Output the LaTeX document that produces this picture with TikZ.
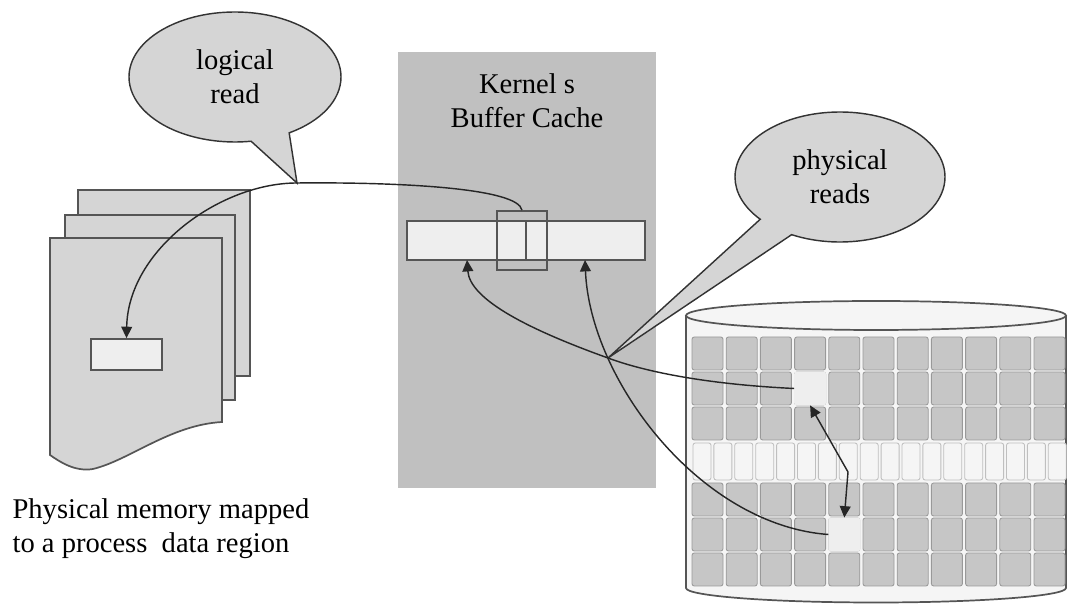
\documentclass[tikz,border=0pt]{standalone}
\usepackage{fontspec}
\setmainfont{Liberation Serif}
\usetikzlibrary{arrows.meta,shapes.callouts,fit}

\newcommand{\px}{0.35pt}
\definecolor{cachegray}{HTML}{C0C0C0}
\definecolor{pagegray}{HTML}{D5D5D5}
\definecolor{slotgray}{HTML}{EEEEEE}
\definecolor{diskgray}{HTML}{F5F5F5}
\definecolor{blockgray}{HTML}{C6C6C6}
\definecolor{edgegray}{HTML}{555555}

\tikzset{
  bubble/.style={ellipse callout, callout pointer arc=22, fill=pagegray,
    draw=black!80, line width=0.5pt, align=center, inner sep=0pt},
  page/.style={fill=pagegray, draw=edgegray, line width=0.6pt},
  slot/.style={fill=slotgray, draw=edgegray, line width=0.6pt, inner sep=0pt},
  block/.style={fill=blockgray, draw=black!40, line width=0.3pt,
    rounded corners=0.8pt, inner sep=0pt,
    minimum width=31*\px, minimum height=33*\px},
  hiblock/.style={block, fill=slotgray, draw=slotgray},
  track/.style={block, fill=diskgray, draw=black!25,
    minimum width=18*\px, minimum height=37*\px},
  link/.style={draw=black!85, line width=0.5pt},
}

\begin{document}
\begin{tikzpicture}[x=\px, y=-\px, font=\fontsize{10}{12}\selectfont,
    >={Triangle[length=4pt,width=3.8pt]}]
  \useasboundingbox (0,0) rectangle (1068,604);

  % kernel buffer cache
  \node[fit={(398,52) (656,488)}, fill=cachegray, inner sep=0pt] (kernel) {};
  \node[anchor=north, align=center, inner sep=0pt] (kname) at (527,73)
    {Kernel s\\Buffer Cache};

  % process pages
  \draw[page] (78,190) rectangle (250,376);
  \draw[page] (65,215) rectangle (235,400);
  \draw[page] (50,238) -- (222,238) -- (222,422)
    .. controls (170,425) and (130,460) .. (93,469)
    .. controls (75,472) and (60,462) .. (50,455) -- cycle;
  \node[slot, fit={(91,339) (162,370)}] (pslot) {};
  \node[anchor=north west, align=left, inner sep=0pt] (caption) at (12,498)
    {Physical memory mapped\\to a process\ \ data region};

  % disk
  \draw[fill=diskgray, draw=edgegray, line width=0.6pt] (686,315.5) -- (686,588)
    arc[start angle=180, end angle=0, x radius=190, y radius=14.5] -- (1066,315.5);
  \draw[fill=diskgray, draw=edgegray, line width=0.6pt]
    (876,315.5) ellipse[x radius=190, y radius=14.5];
  \foreach \y [count=\r] in {353.5,388.5,423.5,499.5,534.5,569.5}
    \foreach \c in {0,...,10}
      \node[block] (b-\r-\c) at ({707.5+34.2*\c},\y) {};
  \foreach \c in {0,...,17}
    \node[track] (t-\c) at ({702+20.9*\c},461.5) {};
  \node[hiblock] (hiA) at (b-2-3) {};
  \node[hiblock] (hiB) at (b-5-4) {};

  % callouts
  \coordinate (lrtip) at (297,183);
  \coordinate (prtip) at (608,358);
  \node[bubble, minimum width=212*\px, minimum height=130*\px,
    callout absolute pointer={(lrtip)}] (lread) at (235,77) {logical\\read};
  \node[bubble, minimum width=210*\px, minimum height=130*\px,
    callout absolute pointer={(prtip)}] (pread) at (840,177) {physical\\reads};

  % buffer in the cache
  \node[slot, fit={(407,221) (645,260)}] (bar) {};
  \draw[edgegray, line width=0.6pt] (526,0 |- bar.north) -- (526,0 |- bar.south);
  \node[fit={(497,211) (547,270)}, draw=edgegray, line width=0.6pt,
    inner sep=0pt] (sel) {};
  \coordinate (inA) at (467,260);
  \coordinate (inB) at (585,260);

  % reads
  \draw[link, ->] (sel.north) .. controls (518,188) and (400,182) .. (lrtip)
    .. controls (220,183) and (128,250) .. (pslot.north);
  \draw[link, ->] (hiA.west) .. controls (700,384) and (640,370) .. (prtip)
    .. controls (530,330) and (470,300) .. (inA);
  \draw[link, ->] (hiB.west) .. controls (700,525) and (590,380) .. (inB);
  \draw[link, <->] (hiA.south) -- (848,472) -- (hiB.north);
\end{tikzpicture}
\end{document}
